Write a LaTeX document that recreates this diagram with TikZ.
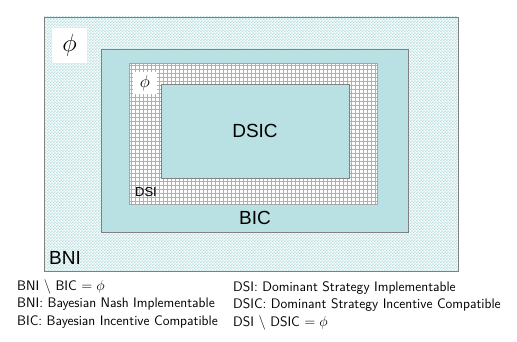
\documentclass[tikz,border=0pt]{standalone}
\usepackage{fontspec}
\newfontfamily\arialf{Liberation Sans}
\usetikzlibrary{patterns}
\definecolor{tealfill}{HTML}{B9E0E2}
\definecolor{checkc}{HTML}{B4DDDF}
\definecolor{gridc}{HTML}{7CC4C8}
\definecolor{frame}{HTML}{808080}
\pgfdeclarepatterninherentlycolored{checker}{\pgfqpoint{0pt}{0pt}}{\pgfqpoint{3.2pt}{3.2pt}}{\pgfqpoint{3.2pt}{3.2pt}}{%
  \pgfsetfillcolor{white}%
  \pgfpathrectangle{\pgfqpoint{0pt}{0pt}}{\pgfqpoint{3.2pt}{3.2pt}}%
  \pgfusepath{fill}%
  \pgfsetfillcolor{checkc}%
  \pgfpathrectangle{\pgfqpoint{0pt}{0pt}}{\pgfqpoint{1.6pt}{1.6pt}}%
  \pgfpathrectangle{\pgfqpoint{1.6pt}{1.6pt}}{\pgfqpoint{1.6pt}{1.6pt}}%
  \pgfusepath{fill}}
\tikzset{
  setbox/.style={draw=frame, line width=0.8pt},
  gridline/.style={draw=gridc, line width=0.9pt},
  biglabel/.style={font=\arialf\fontsize{19}{19}\selectfont, inner sep=0pt},
  smalllabel/.style={font=\arialf\fontsize{13}{13}\selectfont, inner sep=0pt},
  legend/.style={font=\sffamily\fontsize{13.8}{13.8}\selectfont, anchor=west, inner sep=0pt},
  phibox/.style={fill=white, inner sep=0pt}
}
\begin{document}
\begin{tikzpicture}[x=1pt,y=-1pt]
\useasboundingbox (0,0) rectangle (517,342);
% BNI
\fill[pattern=checker] (44,17) rectangle (458,271);
\draw[setbox] (44,17) rectangle (458,271);
% BIC
\draw[setbox, fill=tealfill] (101,49) rectangle (408,232);
% DSI
\fill[white] (129,63) rectangle (377,204);
\draw[gridline] foreach \gx in {131.5,135.5,...,376} {(\gx,63) -- (\gx,204)}
                foreach \gy in {65.5,69.5,...,203} {(129,\gy) -- (377,\gy)};
\draw[frame!70, line width=0.6pt] (129,63) rectangle (377,204);
% DSIC
\draw[setbox, fill=tealfill] (161,84) rectangle (349,178);
% labels
\node[biglabel] (dsic) at (255,131) {DSIC};
\node[biglabel] (bic) at (255,218) {BIC};
\node[biglabel] (bni) at (65,258) {BNI};
\node[smalllabel] (dsi) at (146,192) {DSI};
\node[phibox, minimum width=35pt, minimum height=35pt] (phi1) at (69.5,45.5) {\fontsize{30}{30}\selectfont$\phi$};
\node[phibox, minimum width=24pt, minimum height=22pt] (phi2) at (145,83) {\fontsize{17}{17}\selectfont$\phi$};
% legend
\node[legend] (l1) at (17,287) {BNI $\setminus$ BIC $=\phi$};
\node[legend] (l2) at (17,304.5) {BNI: Bayesian Nash Implementable};
\node[legend] (l3) at (17,322) {BIC: Bayesian Incentive Compatible};
\node[legend] (r1) at (233,288) {DSI: Dominant Strategy Implementable};
\node[legend] (r2) at (233,305) {DSIC: Dominant Strategy Incentive Compatible};
\node[legend] (r3) at (233,322.5) {DSI $\setminus$ DSIC $=\phi$};
\end{tikzpicture}
\end{document}
